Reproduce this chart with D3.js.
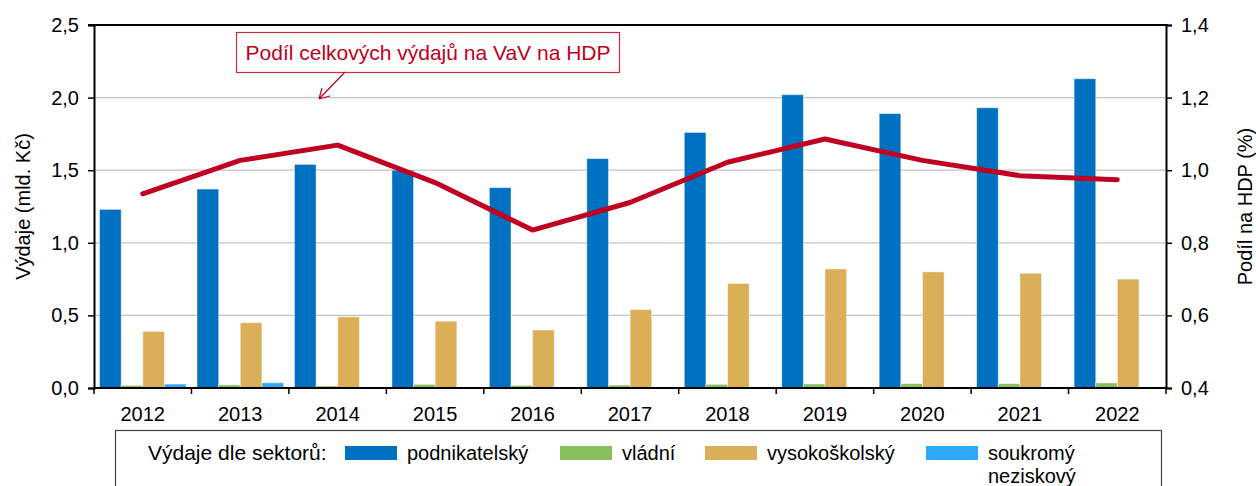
<!DOCTYPE html>
<html>
<head>
<meta charset="utf-8">
<script src="https://d3js.org/d3.v7.min.js"></script>
<style>
  body { margin: 0; background: #fff; }
  text { font-family: "Liberation Sans", Arial, sans-serif; }
</style>
</head>
<body>
<script>
// data
var years = ["2012","2013","2014","2015","2016","2017","2018","2019","2020","2021","2022"];
var podnikatelsky = [1.23, 1.37, 1.54, 1.50, 1.38, 1.58, 1.76, 2.02, 1.89, 1.93, 2.13];
var vladni        = [0.018, 0.022, 0.014, 0.025, 0.018, 0.020, 0.025, 0.028, 0.030, 0.030, 0.035];
var vysokoskolsky = [0.39, 0.45, 0.49, 0.46, 0.40, 0.54, 0.72, 0.82, 0.80, 0.79, 0.75];
var soukromy      = [0.027, 0.036, 0.007, 0, 0, 0, 0, 0, 0, 0, 0];
var podilHDP      = [0.935, 1.027, 1.069, 0.966, 0.835, 0.911, 1.022, 1.086, 1.027, 0.985, 0.974];
var leftTicks  = [0, 0.5, 1, 1.5, 2, 2.5];
var rightTicks = [0.4, 0.6, 0.8, 1.0, 1.2, 1.4];

var series = [
  {name: "podnikatelský", values: podnikatelsky, color: "#0070C0"},
  {name: "vládní", values: vladni, color: "#88BF5C"},
  {name: "vysokoškolský", values: vysokoskolsky, color: "#DBAF57"},
  {name: "soukromý neziskový", values: soukromy, color: "#2DA9FA"}
];

var width = 1256, height = 486;
var plot = {left: 94, right: 1166, top: 25, bottom: 388};
var fs = "20px";

var svg = d3.select("body").append("svg")
  .attr("width", width)
  .attr("height", height);

var x = d3.scaleBand().domain(years).range([plot.left, plot.right]);
var xs = d3.scaleBand().domain(d3.range(series.length))
  .range([x.bandwidth() * 0.057, x.bandwidth() * 0.945]);
var y = d3.scaleLinear().domain([0, 2.5]).range([plot.bottom, plot.top]);
var y2 = d3.scaleLinear().domain([0.4, 1.4]).range([plot.bottom, plot.top]);

var fmt = function(d){ return d3.format(".1f")(d).replace(".", ","); };

// gridlines
svg.append("g").selectAll("line")
  .data(leftTicks.slice(1, -1))
  .enter().append("line")
  .attr("x1", plot.left).attr("x2", plot.right)
  .attr("y1", function(d){ return y(d); })
  .attr("y2", function(d){ return y(d); })
  .style("stroke", "#c4c4c4")
  .style("stroke-width", 1.2);

// bars
series.forEach(function(s, si){
  svg.append("g").selectAll("rect")
    .data(s.values)
    .enter().append("rect")
    .attr("x", function(d, i){ return x(years[i]) + xs(si); })
    .attr("y", function(d){ return y(d); })
    .attr("width", xs.bandwidth())
    .attr("height", function(d){ return y(0) - y(d); })
    .style("fill", s.color)
    .style("stroke", "rgba(255,255,255,0.45)")
    .style("stroke-width", 1);
});

// line
var line = d3.line()
  .x(function(d, i){ return x(years[i]) + x.bandwidth() / 2; })
  .y(function(d){ return y2(d); });

svg.append("path")
  .datum(podilHDP)
  .attr("d", line)
  .style("fill", "none")
  .style("stroke", "#C00020")
  .style("stroke-width", 5)
  .style("stroke-linecap", "round")
  .style("stroke-linejoin", "round");

// top border
svg.append("line")
  .attr("x1", plot.left - 6).attr("x2", plot.right + 2)
  .attr("y1", plot.top).attr("y2", plot.top)
  .style("stroke", "#000").style("stroke-width", 2);

// axes
var yAxis = d3.axisLeft(y).tickValues(leftTicks).tickFormat(fmt).tickSize(6).tickPadding(9);
var yAxis2 = d3.axisRight(y2).tickValues(rightTicks).tickFormat(fmt).tickSize(6).tickPadding(9);

var gy = svg.append("g").attr("transform", "translate(" + plot.left + ",0)").call(yAxis);
var gy2 = svg.append("g").attr("transform", "translate(" + plot.right + ",0)").call(yAxis2);

// x axis: ticks at category boundaries
var gx = svg.append("g").attr("transform", "translate(0," + plot.bottom + ")");
gx.append("line")
  .attr("x1", plot.left - 1).attr("x2", plot.right + 1)
  .style("stroke", "#000").style("stroke-width", 2);
gx.selectAll(".tk")
  .data(years.concat(["end"]))
  .enter().append("line")
  .attr("x1", function(d, i){ return plot.left + i * x.step(); })
  .attr("x2", function(d, i){ return plot.left + i * x.step(); })
  .attr("y1", 0).attr("y2", 6)
  .style("stroke", "#000").style("stroke-width", 1.5);
gx.selectAll(".lbl")
  .data(years)
  .enter().append("text")
  .attr("x", function(d){ return x(d) + x.bandwidth() / 2; })
  .attr("y", 33)
  .attr("text-anchor", "middle")
  .style("font-size", fs)
  .text(function(d){ return d; });

[gy, gy2].forEach(function(g){
  g.select(".domain").style("stroke", "#000").style("stroke-width", 2);
  g.selectAll(".tick line").style("stroke", "#000").style("stroke-width", 1.5);
  g.selectAll(".tick text").style("font-size", fs).style("fill", "#000")
    .style("font-family", "'Liberation Sans', Arial, sans-serif");
});

// axis titles
svg.append("text")
  .attr("transform", "translate(30," + ((plot.top + plot.bottom) / 2) + ") rotate(-90)")
  .attr("text-anchor", "middle")
  .style("font-size", fs)
  .text("Výdaje (mld. Kč)");

svg.append("text")
  .attr("transform", "translate(1252," + ((plot.top + plot.bottom) / 2) + ") rotate(-90)")
  .attr("text-anchor", "middle")
  .style("font-size", fs)
  .text("Podíl na HDP (%)");

// annotation
var note = svg.append("g");
note.append("rect")
  .attr("x", 236.5).attr("y", 32.5)
  .attr("width", 383).attr("height", 40)
  .style("fill", "#fff")
  .style("stroke", "#C8303F")
  .style("stroke-width", 1.2);
note.append("text")
  .attr("x", 428).attr("y", 60)
  .attr("text-anchor", "middle")
  .style("font-size", "21px")
  .style("fill", "#C00020")
  .text("Podíl celkových výdajů na VaV na HDP");
note.append("path")
  .attr("d", "M345,72 L319,99 M319,99 L322,88 M319,99 L330,96")
  .style("fill", "none")
  .style("stroke", "#C00020")
  .style("stroke-width", 1.2);

// legend
var lg = svg.append("g");
lg.append("rect")
  .attr("x", 115.5).attr("y", 430.5)
  .attr("width", 1046).attr("height", 70)
  .style("fill", "#fff")
  .style("stroke", "#444")
  .style("stroke-width", 1.2);
lg.append("text")
  .attr("x", 148).attr("y", 460)
  .style("font-size", "21px")
  .text("Výdaje dle sektorů:");

var legendX = [345, 560, 705, 926];
series.forEach(function(s, i){
  lg.append("rect")
    .attr("x", legendX[i]).attr("y", 446)
    .attr("width", 52).attr("height", 14)
    .style("fill", s.color);
  var parts = s.name.split(" ");
  parts.forEach(function(p, j){
    lg.append("text")
      .attr("x", legendX[i] + 62).attr("y", 460 + j * 23)
      .style("font-size", fs)
      .text(p);
  });
});
</script>
</body>
</html>
